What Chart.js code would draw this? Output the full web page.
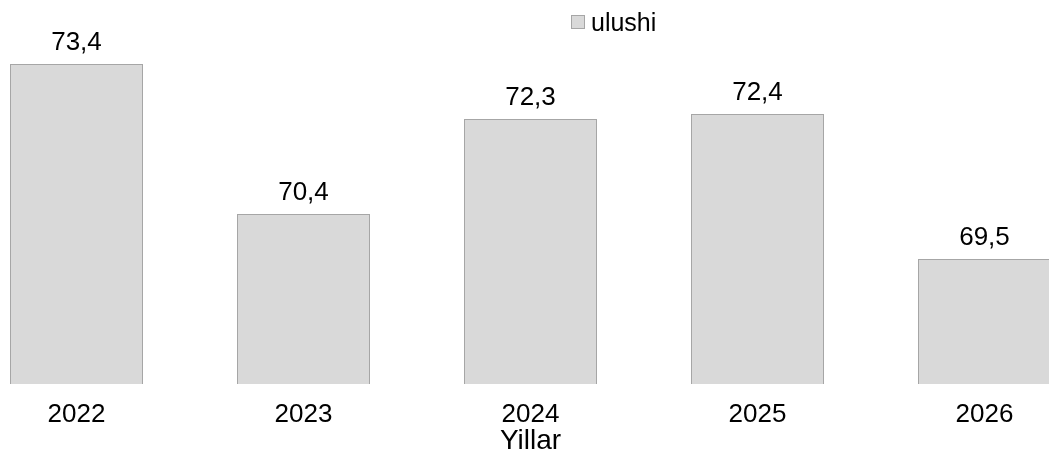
<!DOCTYPE html>
<html>
<head>
<meta charset="utf-8">
<script src="https://cdn.jsdelivr.net/npm/chart.js@4/dist/chart.umd.min.js"></script>
<style>
    html, body {
        margin: 0;
        padding: 0;
        background: #ffffff;
        overflow: hidden;
        width: 1049px;
        height: 455px;
        font-family: "Liberation Sans", Arial, sans-serif;
    }
    /* canvas is wider than the window so the outer bars are cut off like in the original */
    .wrap {
        position: absolute;
        left: -37px;
        top: 0;
        width: 1135px;
        height: 455px;
    }
    .legend {
        position: absolute;
        left: 571px;
        top: 7px;
        height: 30px;
        display: flex;
        align-items: center;
        font-size: 25px;
        color: #000;
    }
    .legend .box {
        width: 12px;
        height: 12px;
        background: #d9d9d9;
        border: 1px solid #a6a6a6;
        margin-right: 6px;
    }
</style>
</head>
<body>
<div class="wrap"><canvas id="barChart"></canvas></div>
<div class="legend"><span class="box"></span><span>ulushi</span></div>
<script>
// Chart data
const years = ['2022', '2023', '2024', '2025', '2026'];
const shares = [73.4, 70.4, 72.3, 72.4, 69.5];
const seriesName = 'ulushi';
const axisTitle = 'Yillar';

const fontFamily = '"Liberation Sans", Arial, sans-serif';

// Value labels above each bar (comma decimal)
const valueLabels = {
    id: 'valueLabels',
    afterDatasetsDraw(chart) {
        const ctx = chart.ctx;
        const meta = chart.getDatasetMeta(0);
        ctx.save();
        ctx.font = '26px ' + fontFamily;
        ctx.fillStyle = '#000000';
        ctx.textAlign = 'center';
        ctx.textBaseline = 'alphabetic';
        meta.data.forEach((bar, i) => {
            const text = shares[i].toFixed(1).replace('.', ',');
            ctx.fillText(text, bar.x, bar.y - 14);
        });
        ctx.restore();
    }
};

const ctx = document.getElementById('barChart').getContext('2d');

new Chart(ctx, {
    type: 'bar',
    data: {
        labels: years,
        datasets: [{
            label: seriesName,
            data: shares,
            backgroundColor: '#d9d9d9',
            borderColor: '#a6a6a6',
            borderWidth: 1,
            borderSkipped: false,
            inflateAmount: 0,
            categoryPercentage: 1,
            barPercentage: 133 / 227
        }]
    },
    options: {
        responsive: true,
        maintainAspectRatio: false,
        animation: false,
        layout: {
            padding: { top: 34, left: 0, right: 0, bottom: 0 }
        },
        plugins: {
            legend: { display: false },
            tooltip: { enabled: false }
        },
        scales: {
            x: {
                grid: { display: false, drawTicks: false },
                border: { display: false },
                ticks: {
                    color: '#000000',
                    padding: 18,
                    font: { family: fontFamily, size: 26, lineHeight: 1 }
                },
                title: {
                    display: true,
                    text: axisTitle,
                    color: '#000000',
                    padding: { top: -19, bottom: 0 },
                    font: { family: fontFamily, size: 28, lineHeight: 1 }
                }
            },
            y: {
                display: false,
                min: 67,
                max: 74
            }
        }
    },
    plugins: [valueLabels]
});
</script>
</body>
</html>
